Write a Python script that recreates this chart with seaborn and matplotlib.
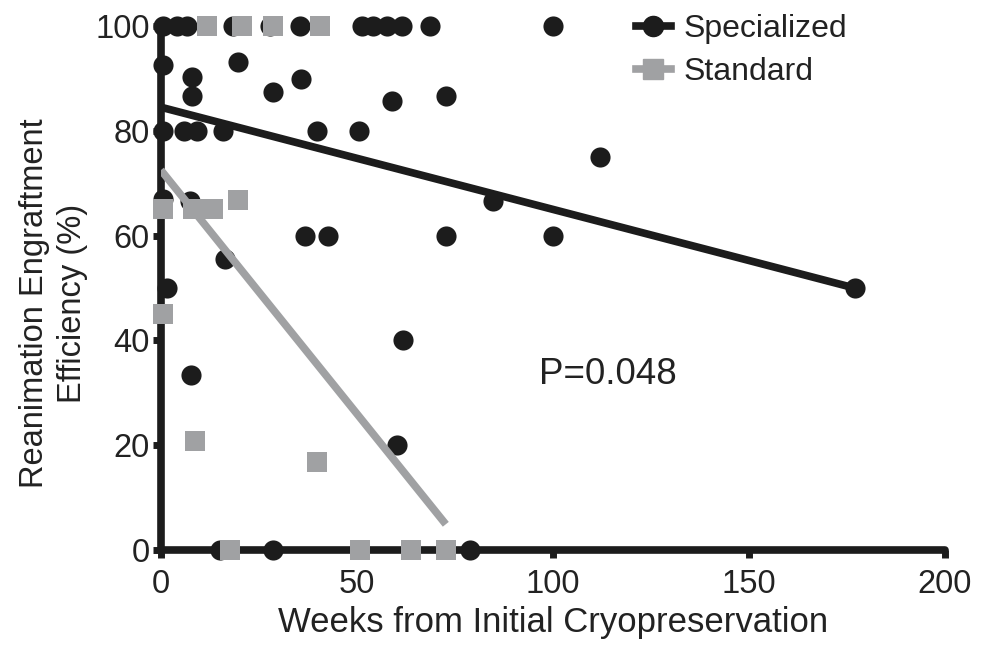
import numpy as np
import pandas as pd
import matplotlib
matplotlib.use("Agg")
import matplotlib.pyplot as plt
import seaborn as sns
from matplotlib.lines import Line2D

# 데이터
spec_weeks = [0.5, 4, 6.6, 18.4, 27.8, 35.5, 51.3, 54.1, 57.7, 61.5, 68.6, 100,
              0.5, 19.6, 7.9, 7.9, 28.6, 35.7, 59, 72.7,
              0.5, 6, 9.2, 15.8, 39.8, 50.5,
              112, 84.7, 100, 72.7, 36.7, 42.6, 61.7, 16.3, 1.5, 7.4, 0.5, 7.6, 60.2, 177,
              15, 28.6, 79]
spec_eff = [100, 100, 100, 100, 100, 100, 100, 100, 100, 100, 100, 100,
            92.5, 93.1, 90.2, 86.6, 87.4, 89.9, 85.7, 86.6,
            80, 80, 80, 80, 80, 80,
            75, 66.6, 60, 60, 60, 60, 40, 55.5, 50, 66.6, 67, 33.3, 20, 50,
            0, 0, 0]

std_weeks = [11.7, 20.7, 28.6, 40.6, 0.5, 8.2, 13.3, 19.6, 0.5, 8.7, 39.8,
             17.6, 50.8, 63.8, 72.7]
std_eff = [100, 100, 100, 100, 65, 65, 65, 66.7, 45, 20.8, 16.8,
           0, 0, 0, 0]

# 회귀선 (절편, 기울기) - 그림에서 읽은 값
spec_fit = (84.5, -0.195)
std_fit = (72.5, -0.93)

p_text = "P=0.048"

df_spec = pd.DataFrame({"weeks": spec_weeks, "eff": spec_eff})
df_std = pd.DataFrame({"weeks": std_weeks, "eff": std_eff})


def fit_line(df, fit):
    xs = np.array([df["weeks"].min() - 0.5, df["weeks"].max()])
    return pd.DataFrame({"weeks": xs, "eff": fit[0] + fit[1] * xs})


plt.rcParams["font.family"] = ["Liberation Sans", "DejaVu Sans"]
black = "#1c1c1c"
grey = "#a0a1a3"
txt = "#222222"

fig = plt.figure(figsize=(9.81, 6.5), dpi=100)
ax = fig.add_axes([0.164, 0.154, 0.799, 0.806])

sns.scatterplot(data=df_spec, x="weeks", y="eff", ax=ax, s=210, color=black,
                marker="o", linewidth=0, zorder=3, clip_on=False)
sns.lineplot(data=fit_line(df_spec, spec_fit), x="weeks", y="eff", ax=ax,
             color=black, lw=5.5, zorder=4, solid_capstyle="butt")
sns.scatterplot(data=df_std, x="weeks", y="eff", ax=ax, s=200, color=grey,
                marker="s", linewidth=0, zorder=5, clip_on=False)
sns.lineplot(data=fit_line(df_std, std_fit), x="weeks", y="eff", ax=ax,
             color=grey, lw=5.5, zorder=6, solid_capstyle="butt")

ax.set_xlim(0, 200)
ax.set_ylim(0, 100)
ax.set_xticks([0, 50, 100, 150, 200])
ax.set_yticks([0, 20, 40, 60, 80, 100])
for s in ["top", "right"]:
    ax.spines[s].set_visible(False)
for s in ["left", "bottom"]:
    ax.spines[s].set_linewidth(5.5)
    ax.spines[s].set_color(black)
    ax.spines[s].set_capstyle("round")
ax.tick_params(width=5, length=6, color=black, labelsize=23.5, pad=2,
               labelcolor=txt)
ax.tick_params(axis="x", pad=8)

ax.set_xlabel("Weeks from Initial Cryopreservation", fontsize=25,
              color=txt, labelpad=4)
ax.set_ylabel("Reanimation Engraftment\nEfficiency (%)", fontsize=23.5,
              color=txt, linespacing=1.3)
ax.yaxis.set_label_coords(-0.093, 0.47)

ax.text(96.5, 33.5, p_text, fontsize=26.5, color=txt, va="center")

handles = [
    Line2D([], [], color=black, lw=5.5, marker="o", markersize=14.5),
    Line2D([], [], color=grey, lw=5.5, marker="s", markersize=14),
]
ax.legend(handles, ["Specialized", "Standard"], loc="center left",
          bbox_to_anchor=(0.569, 0.953), frameon=False, fontsize=23,
          handlelength=1.1, handletextpad=0.4, labelspacing=0.42,
          labelcolor=txt)

fig.savefig("out.png", dpi=100)
